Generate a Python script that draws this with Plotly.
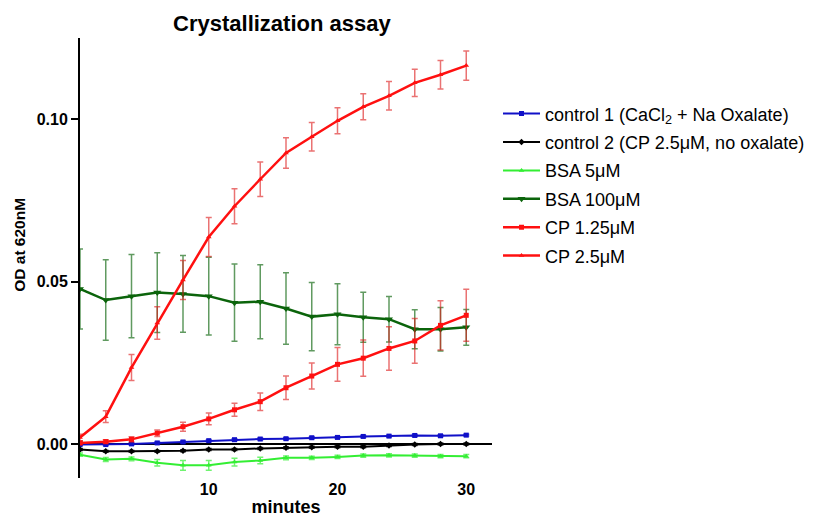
import plotly.graph_objects as go

minutes = [0, 2, 4, 6, 8, 10, 12, 14, 16, 18, 20, 22, 24, 26, 28, 30]

control1 = [-0.0002, -0.0002, 0.0, 0.0003, 0.0006, 0.0010, 0.0013, 0.0015, 0.0016, 0.0019, 0.0020, 0.0023, 0.0024, 0.0026, 0.0025, 0.0027]
control1_err = [0.0003] * 16

control2 = [-0.0017, -0.0023, -0.0023, -0.0023, -0.0021, -0.0017, -0.0017, -0.0014, -0.0012, -0.0010, -0.0009, -0.0009, -0.0005, -0.0002, 0.0, 0.0]
control2_err = [0.0003] * 16

bsa5 = [-0.0033, -0.0048, -0.0046, -0.0058, -0.0066, -0.0066, -0.0056, -0.0051, -0.0043, -0.0043, -0.0040, -0.0036, -0.0035, -0.0036, -0.0038, -0.0038]
bsa5_err = [0.0005, 0.0006, 0.0006, 0.0010, 0.0015, 0.0015, 0.0012, 0.0010, 0.0006, 0.0005, 0.0005, 0.0005, 0.0005, 0.0005, 0.0005, 0.0005]

bsa100 = [0.0477, 0.0443, 0.0455, 0.0466, 0.0462, 0.0455, 0.0435, 0.0438, 0.0417, 0.0392, 0.0399, 0.0390, 0.0384, 0.0353, 0.0353, 0.0359]
bsa100_err = [0.0123, 0.0124, 0.0128, 0.0123, 0.0118, 0.0120, 0.0119, 0.0114, 0.0110, 0.0105, 0.0094, 0.0077, 0.0070, 0.0060, 0.0067, 0.0055]

cp125 = [0.0003, 0.0007, 0.0014, 0.0033, 0.0053, 0.0077, 0.0105, 0.0130, 0.0173, 0.0209, 0.0245, 0.0264, 0.0294, 0.0317, 0.0365, 0.0396]
cp125_err = [0.0005, 0.0006, 0.0008, 0.0010, 0.0014, 0.0018, 0.0020, 0.0027, 0.0036, 0.0040, 0.0052, 0.0056, 0.0067, 0.0069, 0.0076, 0.0080]

cp25 = [0.0020, 0.0084, 0.0235, 0.0372, 0.0505, 0.0637, 0.0732, 0.0815, 0.0896, 0.0946, 0.0995, 0.1038, 0.1072, 0.1112, 0.1137, 0.1165]
cp25_err = [0.0010, 0.0018, 0.0040, 0.0050, 0.0060, 0.0060, 0.0054, 0.0053, 0.0047, 0.0044, 0.0040, 0.0040, 0.0044, 0.0042, 0.0044, 0.0045]

names = [
    "control 1 (CaCl<sub>2</sub> + Na Oxalate)",
    "control 2 (CP 2.5μM, no oxalate)",
    "BSA 5μM",
    "BSA 100μM",
    "CP 1.25μM",
    "CP 2.5μM",
]

x_ticks = [10, 20, 30]
y_ticks = [0.0, 0.05, 0.10]

FONT = "Liberation Sans, Arial, Helvetica, sans-serif"

series = [
    (control1, control1_err, "#1010c8", "rgba(16,16,200,0.7)", "square", 5, 2),
    (control2, control2_err, "#000000", "rgba(0,0,0,0.7)", "diamond", 5, 2),
    (bsa5, bsa5_err, "#33ee33", "rgba(51,238,51,0.7)", "triangle-up", 5, 2),
    (bsa100, bsa100_err, "#0b640b", "rgba(11,100,11,0.65)", "triangle-down", 7, 2.5),
    (cp125, cp125_err, "#ff1010", "rgba(220,20,20,0.6)", "square", 5, 2.5),
    (cp25, cp25_err, "#ff1010", "rgba(220,20,20,0.6)", "triangle-up", 5, 2.5),
]

fig = go.Figure()
for i, (vals, errs, col, ecol, sym, msize, lw) in enumerate(series):
    fig.add_trace(go.Scatter(
        x=minutes, y=vals, name=names[i], mode="lines+markers",
        line=dict(color=col, width=lw),
        marker=dict(color=col, symbol=sym, size=msize),
        error_y=dict(type="data", array=errs, visible=True, color=ecol, thickness=1.5, width=3),
        legendgroup=f"g{i}",
    ))

# page has an 8px body margin, so the figure is drawn at (8, 8)
fig.update_layout(
    width=806, height=509,
    paper_bgcolor="white", plot_bgcolor="white",
    margin=dict(l=72, r=322, t=30, b=39, autoexpand=False),
    font=dict(family=FONT, color="black"),
    title=dict(text="<b>Crystallization assay</b>", x=0.49, xref="paper", xanchor="center",
               y=0.986, yref="container", yanchor="top", font=dict(size=22, family=FONT)),
    showlegend=True,
    legend=dict(x=1.0146, xref="paper", xanchor="left", y=0.8695, yanchor="top",
                font=dict(size=18, family=FONT),
                tracegroupgap=2, itemwidth=37, bgcolor="rgba(0,0,0,0)"),
    annotations=[dict(
        text="<b>OD at 620nM</b>", textangle=-90, x=0, xref="paper", xanchor="center",
        xshift=-60, y=0.53, yref="paper", yanchor="middle", showarrow=False,
        font=dict(size=15.5, family=FONT),
    )],
)

fig.update_xaxes(
    range=[0, 32], tickvals=x_ticks, ticktext=[f"<b>{v}</b>" for v in x_ticks],
    showline=False, showgrid=False, zeroline=False, ticks="", automargin=False,
    tickfont=dict(size=16, family=FONT),
    title=dict(text="<b>minutes</b>", font=dict(size=18, family=FONT), standoff=10),
)
fig.update_yaxes(
    range=[-0.0105, 0.125], tickvals=y_ticks, ticktext=[f"<b>{v:.2f}</b>" for v in y_ticks],
    showline=True, linecolor="black", linewidth=2, showgrid=False,
    zeroline=True, zerolinecolor="black", zerolinewidth=2,
    ticks="outside", ticklen=7, tickwidth=1.5, tickcolor="black", automargin=False,
    tickfont=dict(size=16, family=FONT),
)

fig.write_html("out.html")
